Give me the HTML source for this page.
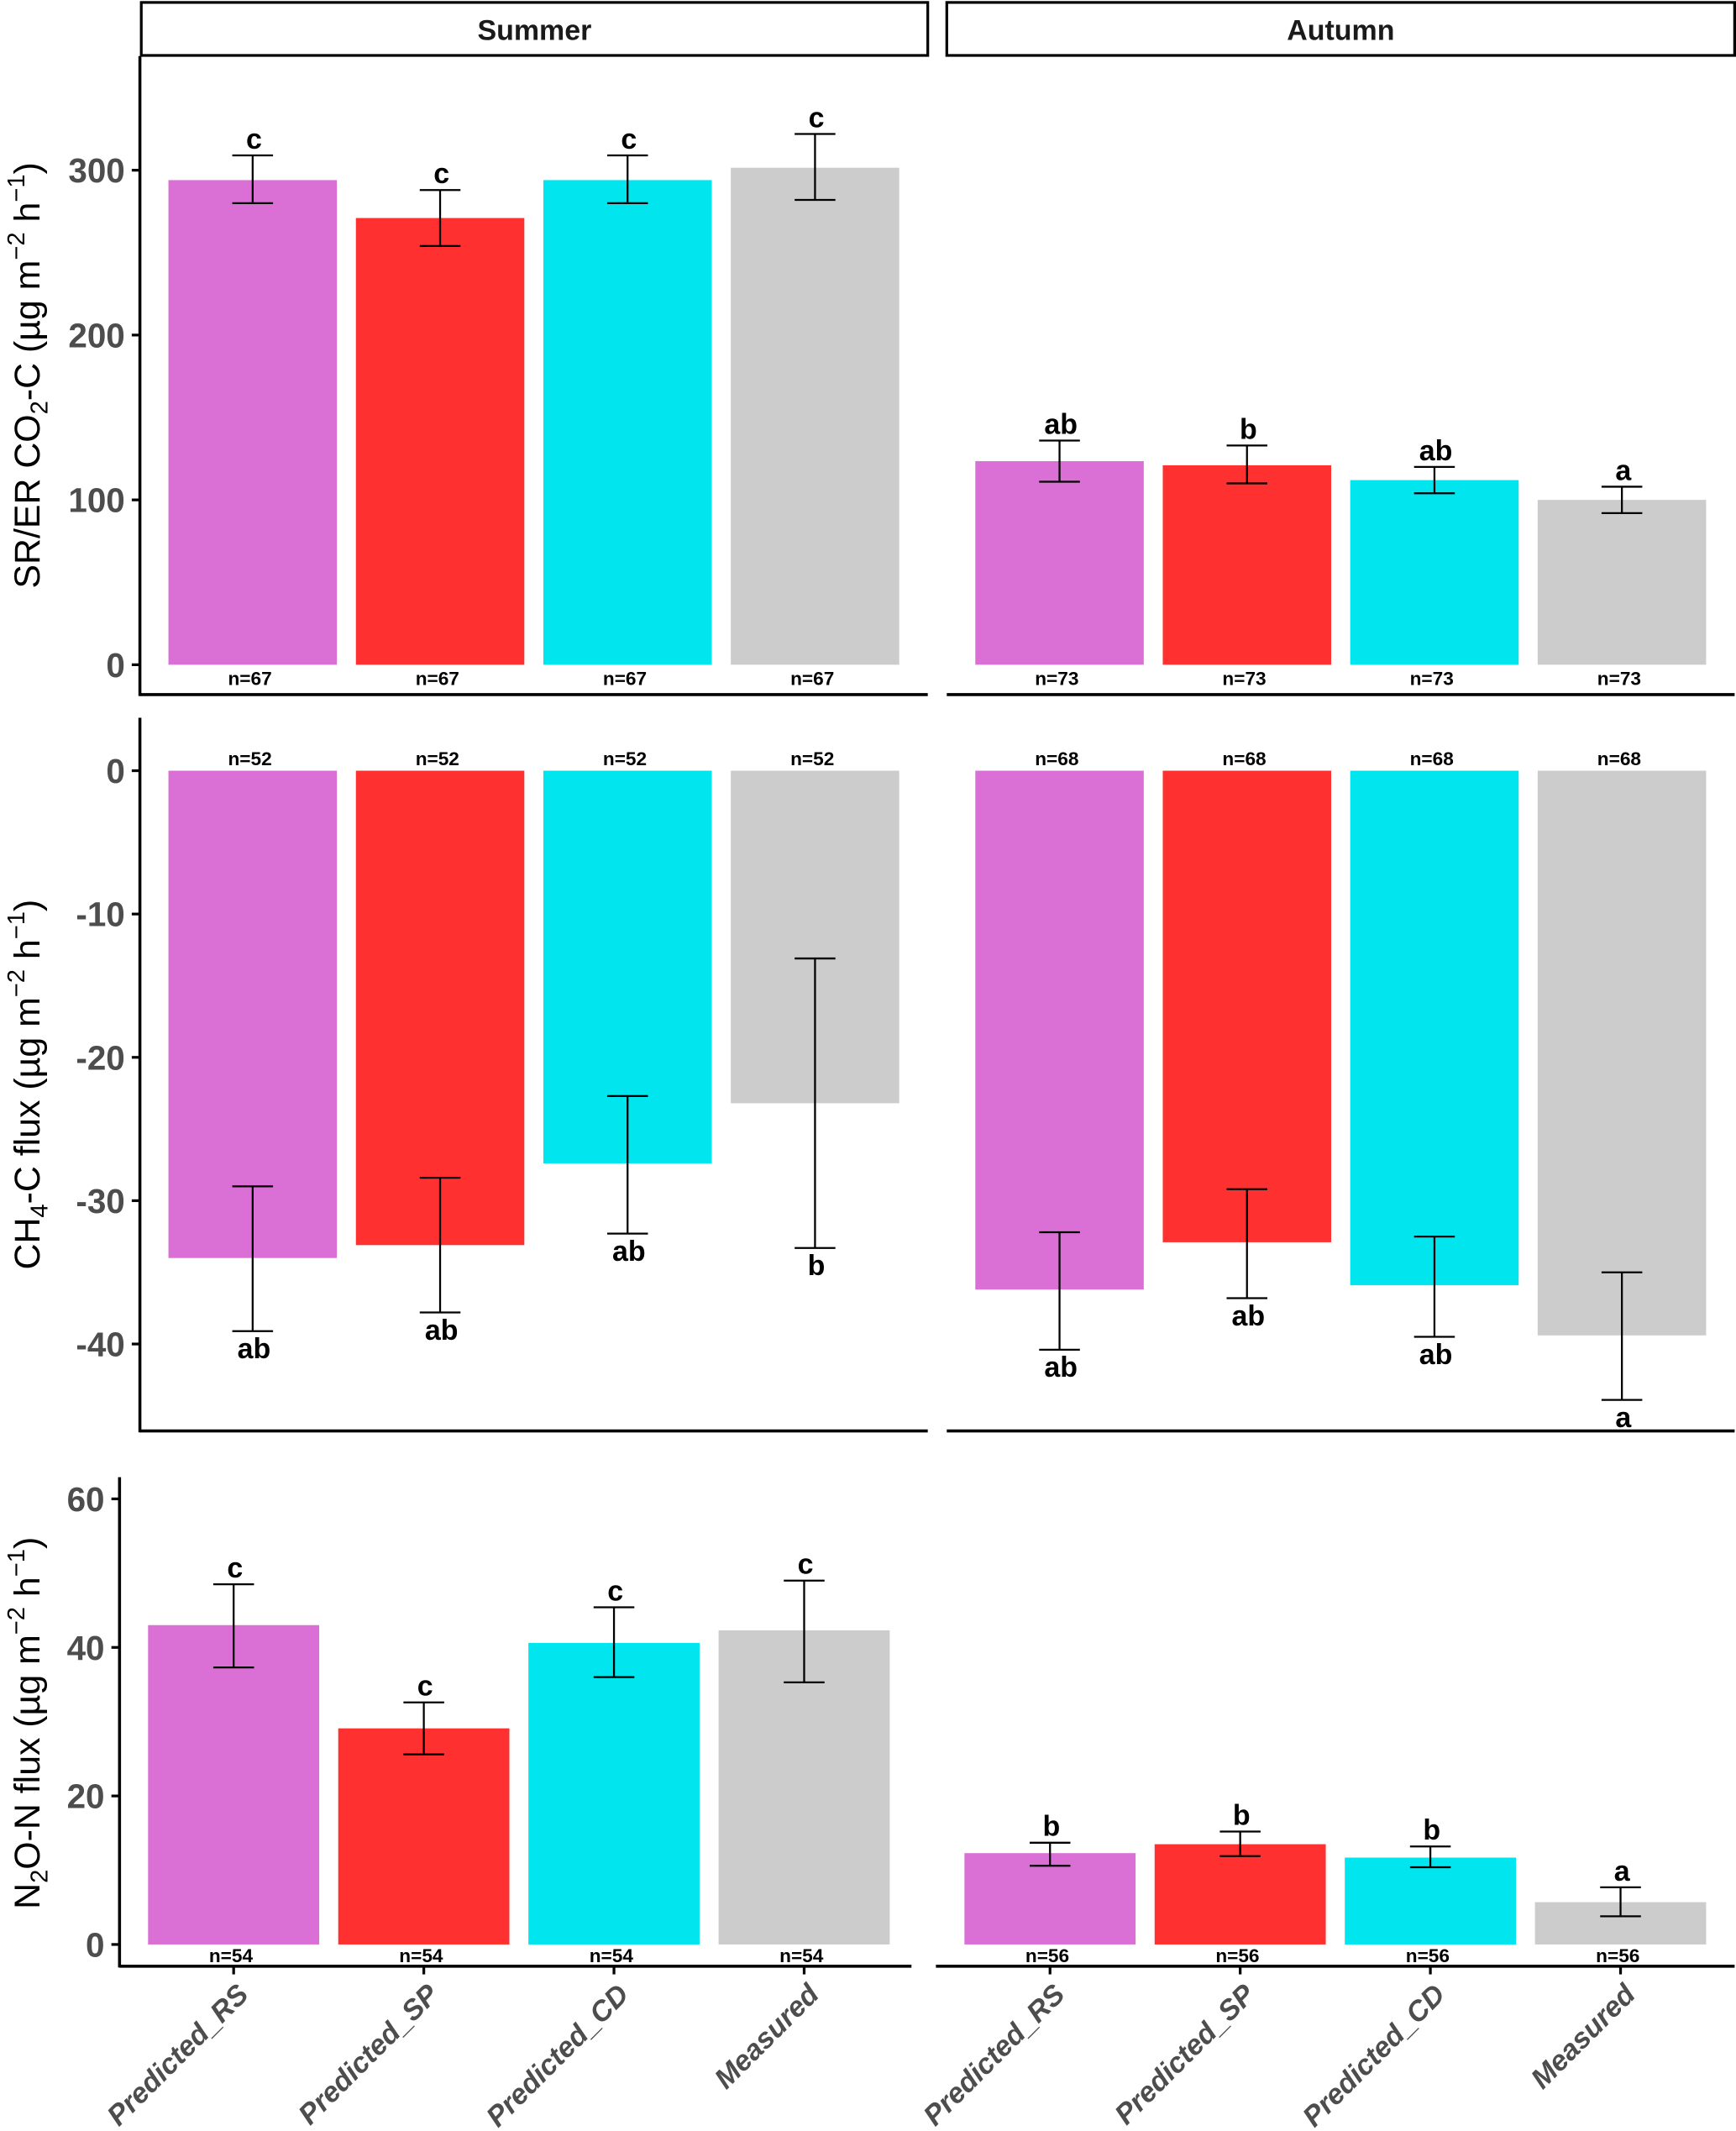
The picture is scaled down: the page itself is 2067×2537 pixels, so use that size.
<!DOCTYPE html>
<html><head><meta charset="utf-8"><style>
html,body{margin:0;padding:0;background:#fff;}
svg{display:block;}
text{font-family:"Liberation Sans Narrow","Liberation Sans",sans-serif;}
</style></head><body>
<svg id="chart" width="2067" height="2537" viewBox="0 0 1278 1568" xmlns="http://www.w3.org/2000/svg">
<g id="g"></g>
</svg>
<script>
const categories = ["Predicted_RS","Predicted_SP","Predicted_CD","Measured"];
const colors = ["#da70d6","#ff3030","#00e5ee","#cccccc"];
// CO2 panel
const co2SummerMean = [294, 271, 294, 301.5];
const co2SummerLo = [280, 254, 280, 282];
const co2SummerHi = [309, 288, 309, 322];
const co2SummerLetters = ["c","c","c","c"];
const co2AutumnMean = [123.5, 121, 112, 100];
const co2AutumnLo = [111, 110, 104, 92];
const co2AutumnHi = [136, 133, 120, 108];
const co2AutumnLetters = ["ab","b","ab","a"];
const co2Ticks = [0, 100, 200, 300];
const co2N = ["n=67","n=73"];
// CH4 panel
const ch4SummerMean = [-34.0, -33.1, -27.4, -23.2];
const ch4SummerLo = [-39.1, -37.8, -32.3, -33.3];
const ch4SummerHi = [-29.0, -28.4, -22.7, -13.1];
const ch4SummerLetters = ["ab","ab","ab","b"];
const ch4AutumnMean = [-36.2, -32.9, -35.9, -39.4];
const ch4AutumnLo = [-40.4, -36.8, -39.5, -43.9];
const ch4AutumnHi = [-32.2, -29.2, -32.5, -35.0];
const ch4AutumnLetters = ["ab","ab","ab","a"];
const ch4Ticks = [0, -10, -20, -30, -40];
const ch4N = ["n=52","n=68"];
// N2O panel
const n2oSummerMean = [43.0, 29.1, 40.6, 42.3];
const n2oSummerLo = [37.3, 25.6, 36.0, 35.3];
const n2oSummerHi = [48.5, 32.6, 45.4, 49.0];
const n2oSummerLetters = ["c","c","c","c"];
const n2oAutumnMean = [12.3, 13.5, 11.7, 5.7];
const n2oAutumnLo = [10.6, 11.9, 10.4, 3.8];
const n2oAutumnHi = [13.7, 15.2, 13.2, 7.7];
const n2oAutumnLetters = ["b","b","b","a"];
const n2oTicks = [0, 20, 40, 60];
const n2oN = ["n=54","n=56"];

const NS="http://www.w3.org/2000/svg";
const root=document.getElementById('g');
function mk(tag, attrs, parent, txt){
  const e=document.createElementNS(NS,tag);
  for(const k in attrs) e.setAttribute(k,attrs[k]);
  if(txt!==undefined) e.textContent=txt;
  (parent||root).appendChild(e);
  return e;
}

[["Summer",104,683],["Autumn",697,1277]].forEach(s=>{
  const r=mk('rect',{x:s[1],y:1.5,width:s[2]-s[1],height:39,fill:'#fff',stroke:'#000','stroke-width':2});
  
  
  const t=mk('text',{x:(s[1]+s[2])/2,y:29,'text-anchor':'middle','font-size':21,'font-weight':'bold',fill:'#1a1a1a'},null,s[0]);
  
  
});

function panel(cfg){
  const y=v=>cfg.y0 - v*cfg.k;
  const facets=[
    {name:'summer',x0:cfg.sx0,mean:cfg.sMean,lo:cfg.sLo,hi:cfg.sHi,let:cfg.sLet,n:cfg.n[0],lineX:[cfg.axisX,cfg.sEnd]},
    {name:'autumn',x0:cfg.ax0,mean:cfg.aMean,lo:cfg.aLo,hi:cfg.aHi,let:cfg.aLet,n:cfg.n[1],lineX:[cfg.aStart,1277]}
  ];
  facets.forEach(f=>{
    const bl=mk('line',{x1:f.lineX[0],x2:f.lineX[1],y1:cfg.bottom,y2:cfg.bottom,stroke:'#000','stroke-width':2.2});
    
    
    f.mean.forEach((m,i)=>{
      const cx=f.x0+i*cfg.step;
      const top=Math.min(y(m),y(0)), h=Math.abs(y(m)-y(0));
      const b=mk('rect',{x:cx-cfg.bw/2,y:top,width:cfg.bw,height:h,fill:colors[i]});
      
      
      const yh=y(f.hi[i]), yl=y(f.lo[i]);
      const eg=mk('g',{stroke:'#000','stroke-width':1.4});
      
      
      mk('line',{x1:cx,x2:cx,y1:yh,y2:yl},eg);
      mk('line',{x1:cx-15,x2:cx+15,y1:yh,y2:yh},eg);
      mk('line',{x1:cx-15,x2:cx+15,y1:yl,y2:yl},eg);
      const ly = cfg.neg ? yl+20 : yh-5;
      const lt=mk('text',{x:cx+1,y:ly,'text-anchor':'middle','font-size':21,'font-weight':'bold',fill:'#000'},null,f.let[i]);
      
      
      const nt=mk('text',{x:cx-2,y:cfg.nY,'text-anchor':'middle','font-size':14,'font-weight':'bold',fill:'#000'},null,f.n);
      
      
      if(cfg.xlabels){
        const tk=mk('line',{x1:cx,x2:cx,y1:cfg.bottom,y2:cfg.bottom+6,stroke:'#000','stroke-width':2});
        
        
        const xl=mk('text',{x:cx+12,y:cfg.bottom+22,'text-anchor':'end','font-size':21,'font-weight':'bold','font-style':'italic',fill:'#4d4d4d',transform:`rotate(-45 ${cx+12} ${cfg.bottom+22})`},null,categories[i]);
        
        
      }
    });
  });
  const ax=mk('line',{x1:cfg.axisX,x2:cfg.axisX,y1:cfg.axTop,y2:cfg.bottom+1,stroke:'#000','stroke-width':2.2});
  
  
  cfg.ticks.forEach(t=>{
    const tl=mk('line',{x1:cfg.axisX-6,x2:cfg.axisX,y1:y(t),y2:y(t),stroke:'#000','stroke-width':2});
    
    
    const tt=mk('text',{x:cfg.axisX-11,y:y(t)+9,'text-anchor':'end','font-size':25,'font-weight':'bold',fill:'#4d4d4d'},null,String(t));
    
    
  });
}

panel({id:'co2',y0:489,k:364/300,axisX:103,axTop:41,bottom:511,sEnd:683,aStart:697,sx0:186,ax0:780,step:138,bw:124,
  sMean:co2SummerMean,sLo:co2SummerLo,sHi:co2SummerHi,sLet:co2SummerLetters,
  aMean:co2AutumnMean,aLo:co2AutumnLo,aHi:co2AutumnHi,aLet:co2AutumnLetters,ticks:co2Ticks,n:co2N,nY:504,neg:false});
panel({id:'ch4',y0:567,k:422/40,axisX:103,axTop:528,bottom:1053,sEnd:683,aStart:697,sx0:186,ax0:780,step:138,bw:124,
  sMean:ch4SummerMean,sLo:ch4SummerLo,sHi:ch4SummerHi,sLet:ch4SummerLetters,
  aMean:ch4AutumnMean,aLo:ch4AutumnLo,aHi:ch4AutumnHi,aLet:ch4AutumnLetters,ticks:ch4Ticks,n:ch4N,nY:563,neg:true});
panel({id:'n2o',y0:1431,k:328/60,axisX:88,axTop:1087,bottom:1447,sEnd:671,aStart:689,sx0:172,ax0:773,step:140,bw:126,
  sMean:n2oSummerMean,sLo:n2oSummerLo,sHi:n2oSummerHi,sLet:n2oSummerLetters,
  aMean:n2oAutumnMean,aLo:n2oAutumnLo,aHi:n2oAutumnHi,aLet:n2oAutumnLetters,ticks:n2oTicks,n:n2oN,nY:1444,neg:false,xlabels:true});
</script>
<svg style="position:absolute;left:0;top:0" width="2067" height="2537" viewBox="0 0 1278 1568" xmlns="http://www.w3.org/2000/svg">
<g font-family="Liberation Sans, sans-serif" font-size="26.5" fill="#000">
<text transform="translate(29 276) rotate(-90)" text-anchor="middle">SR/ER CO<tspan font-size="18" dy="6">2</tspan><tspan dy="-6">-C (µg m</tspan><tspan font-size="18" dy="-11">−2</tspan><tspan dy="11"> h</tspan><tspan font-size="18" dy="-11">−1</tspan><tspan dy="11">)</tspan></text>
<text transform="translate(29 798) rotate(-90)" text-anchor="middle">CH<tspan font-size="18" dy="6">4</tspan><tspan dy="-6">-C flux (µg m</tspan><tspan font-size="18" dy="-11">−2</tspan><tspan dy="11"> h</tspan><tspan font-size="18" dy="-11">−1</tspan><tspan dy="11">)</tspan></text>
<text transform="translate(29 1268) rotate(-90)" text-anchor="middle">N<tspan font-size="18" dy="6">2</tspan><tspan dy="-6">O-N flux (µg m</tspan><tspan font-size="18" dy="-11">−2</tspan><tspan dy="11"> h</tspan><tspan font-size="18" dy="-11">−1</tspan><tspan dy="11">)</tspan></text>
</g>
</svg>
</body></html>
